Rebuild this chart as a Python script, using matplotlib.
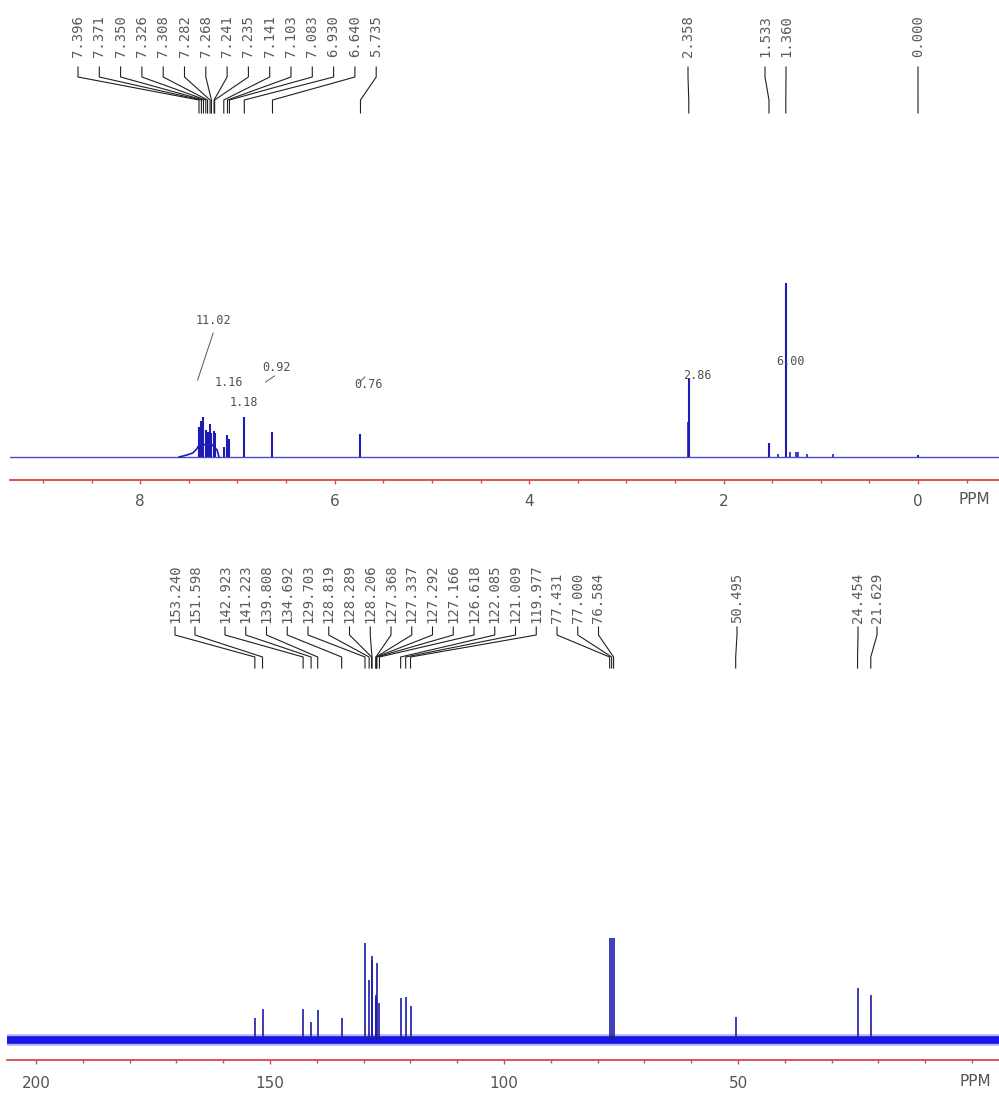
import numpy as np
import matplotlib.pyplot as plt
from matplotlib.ticker import MultipleLocator, FixedLocator

# ---------------- 1H spectrum ----------------
h_shift = [7.396, 7.371, 7.350, 7.326, 7.308, 7.282, 7.268, 7.241, 7.235,
           7.141, 7.103, 7.083, 6.930, 6.640, 5.735, 2.358, 1.533, 1.360, 0.000]
h_height = [30, 36, 40, 27, 25, 33, 24, 26, 24,
            10, 22, 18, 40, 25, 23, 79, 14, 174, 2]
# small unlabelled lines
h_small_shift = [2.370, 1.440, 1.320, 1.260, 1.230, 1.140, 0.870]
h_small_height = [35, 3, 5, 5, 5, 3, 3]
# broad aromatic envelope
hump_shift = [7.60, 7.52, 7.46, 7.42, 7.38, 7.33, 7.28, 7.24, 7.21, 7.19]
hump_height = [0, 2, 4, 8, 14, 12, 14, 10, 7, 0]
h_integral = ['11.02', '1.16', '1.18', '0.92', '0.76', '2.86', '6.00']

# ---------------- 13C spectrum ----------------
c_shift = [153.240, 151.598, 142.923, 141.223, 139.808, 134.692, 129.703,
           128.819, 128.289, 128.206, 127.368, 127.337, 127.292, 127.166,
           126.618, 122.085, 121.009, 119.977, 77.431, 77.000, 76.584,
           50.495, 24.454, 21.629]
c_height = [22, 31, 31, 18, 30, 22, 97,
            60, 84, 80, 40, 45, 42, 77,
            37, 42, 43, 34, 102, 102, 102,
            23, 52, 45]

W, H = 999, 1099
fig = plt.figure(figsize=(W / 100, H / 100), dpi=100)

label_font = dict(family='DejaVu Sans Mono', fontsize=10, color='#5a5a5a')
line_blue = '#1c1cb4'
axis_red = '#d84848'


def setup_axis(ax, xlim, ylim):
    ax.set_xlim(*xlim)
    ax.set_ylim(*ylim)
    for s in ['top', 'left', 'right']:
        ax.spines[s].set_visible(False)
    ax.spines['bottom'].set_color(axis_red)
    ax.spines['bottom'].set_linewidth(1.3)
    ax.set_yticks([])
    ax.tick_params(axis='x', which='both', colors=axis_red, labelcolor='#555555',
                   labelsize=11, direction='out', width=1.0)
    ax.tick_params(axis='x', which='major', length=3.2)
    ax.tick_params(axis='x', which='minor', length=2.5)
    ax.patch.set_alpha(0)


def px2ppm(ax, px):
    return ax.transData.inverted().transform((px, 0))[0]


# ========== top panel: 1H ==========
ax1 = fig.add_axes([10 / W, 1 - 480 / H, 989 / W, 480 / H])
setup_axis(ax1, (9.34, -0.833), (-23, 457))
ax1.xaxis.set_major_locator(MultipleLocator(2))
ax1.xaxis.set_minor_locator(MultipleLocator(0.5))
ax1.tick_params(axis='x', which='major', pad=7)

ax1.plot(ax1.get_xlim(), [0, 0], color='#4a4ad8', lw=1.0, zorder=2)
ax1.plot(hump_shift, hump_height, color=line_blue, lw=1.2, zorder=3)
ax1.vlines(h_shift, 0, h_height, color=line_blue, lw=1.5, zorder=3)
ax1.vlines(h_small_shift, 0, h_small_height, color=line_blue, lw=1.2, zorder=3)

# peak labels with leader lines
h_label_px = list(78 + 21.3 * np.arange(15)) + [688, 765, 786, 918]
for v, p, lpx in zip(h_shift, h_shift, h_label_px):
    lx = px2ppm(ax1, lpx)
    ax1.text(lx, 400, f'{v:.3f}', rotation=90, ha='center', va='bottom', **label_font)
    ax1.plot([lx, lx, p, p], [390, 380, 357, 344], color='#202020', lw=0.8)

# integrals
int_pos = [(7.25, 136), (7.09, 74), (6.93, 54), (6.60, 89), (5.65, 72), (2.27, 81), (1.31, 95)]
for txt, (x, y) in zip(h_integral, int_pos):
    ax1.text(x, y, txt, ha='center', va='center', family='DejaVu Sans Mono',
             fontsize=8.5, color='#505050')
ax1.plot([7.41, 7.25], [77, 124], color='#555555', lw=0.7)
ax1.plot([6.71, 6.62], [75, 81], color='#555555', lw=0.7)
ax1.plot([5.74, 5.69], [75, 80], color='#555555', lw=0.7)
ax1.plot([1.36, 1.36], [75, 85], color='#555555', lw=0.7)

ax1.text(px2ppm(ax1, 974), -43, 'PPM', ha='center', va='center', fontsize=11, color='#555555')

# ========== bottom panel: 13C ==========
ax2 = fig.add_axes([7 / W, 1 - 1060 / H, 992 / W, 520 / H])
setup_axis(ax2, (206.2, -5.77), (-20, 500))
ax2.xaxis.set_major_locator(FixedLocator([200, 150, 100, 50]))
ax2.xaxis.set_minor_locator(MultipleLocator(10))
ax2.tick_params(axis='x', which='major', pad=8.5)

lims = ax2.get_xlim()
ax2.plot(lims, [0, 0], color='#3030ff', lw=8.5, alpha=0.35, zorder=2)
ax2.plot(lims, [0, 0], color='#1818e0', lw=5.5, zorder=2)
ax2.vlines(c_shift, 0, c_height, color='#1c1ca8', lw=1.2, zorder=3)

c_label_px = [175, 195] + list(225 + 20.75 * np.arange(19)) + [737, 858, 877]
for v, p, lpx in zip(c_shift, c_shift, c_label_px):
    lx = px2ppm(ax2, lpx)
    ax2.text(lx, 417, f'{v:.3f}', rotation=90, ha='center', va='bottom', **label_font)
    ax2.plot([lx, lx, p, p], [413, 405, 383, 372], color='#202020', lw=0.8)

ax2.text(px2ppm(ax2, 975), -42, 'PPM', ha='center', va='center', fontsize=11, color='#555555')

fig.savefig('out.png', dpi=100)
